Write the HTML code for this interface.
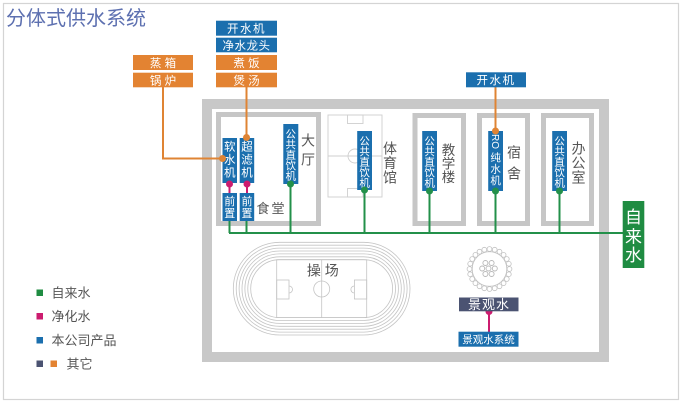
<!DOCTYPE html>
<html><head><meta charset="utf-8"><style>
html,body{margin:0;padding:0;background:#fff;}
svg{display:block;font-family:"Liberation Sans","Noto Sans CJK SC",sans-serif;}
</style></head><body>
<svg width="682" height="404" viewBox="0 0 682 404" xmlns="http://www.w3.org/2000/svg">
<rect x="3.5" y="3.5" width="675" height="396" fill="#fff" stroke="#d4d4d4" stroke-width="1.2"/>
<text x="6" y="25" font-size="20" fill="#5d70b0">分体式供水系统</text>

<!-- campus frame -->
<rect x="207" y="104" width="397" height="253" fill="none" stroke="#c8c8c8" stroke-width="10"/>
<!-- buildings -->
<rect x="218.5" y="114.5" width="100" height="109" fill="none" stroke="#c6c6c6" stroke-width="5"/>
<rect x="415" y="115.5" width="48.5" height="108" fill="none" stroke="#c6c6c6" stroke-width="5"/>
<rect x="479.5" y="115.5" width="48" height="108" fill="none" stroke="#c6c6c6" stroke-width="5"/>
<rect x="543.5" y="115.5" width="48" height="108" fill="none" stroke="#c6c6c6" stroke-width="5"/>

<!-- gym field -->
<g fill="none" stroke="#cfcfcf" stroke-width="0.9">
<rect x="328" y="115" width="54" height="82"/>
<line x1="328" y1="156" x2="382" y2="156"/>
<circle cx="355" cy="156" r="7"/>
<rect x="347.5" y="115" width="15.5" height="8.5"/>
<rect x="347.5" y="188.5" width="15.5" height="8.5"/>
</g>

<!-- track -->
<g fill="none" stroke="#c4c4c4" stroke-width="0.8">
<rect x="233.3" y="242.3" width="176.7" height="92.7" rx="46.35"/>
<rect x="236.2" y="245.2" width="170.9" height="86.9" rx="43.45"/>
<rect x="239.1" y="248.1" width="165.1" height="81.1" rx="40.55"/>
<rect x="242" y="251" width="159.3" height="75.3" rx="37.65"/>
<rect x="244.9" y="253.9" width="153.5" height="69.5" rx="34.75"/>
<rect x="247.8" y="256.8" width="147.7" height="63.7" rx="31.85"/>
<rect x="250.7" y="259.7" width="141.9" height="57.9" rx="28.95"/>
<rect x="276.7" y="259.7" width="90" height="57.9"/>
<line x1="321.7" y1="259.7" x2="321.7" y2="317.6"/>
<circle cx="321.7" cy="289" r="8"/>
<rect x="276.7" y="280" width="12.3" height="19"/>
<rect x="354.4" y="280" width="12.3" height="19"/>
<path d="M289 286 a3 3 0 0 1 0 7"/>
<path d="M354.4 286 a3 3 0 0 0 0 7"/>
</g>
<text x="322.8" y="275.3" font-size="14" fill="#555" text-anchor="middle">操 场</text>

<!-- fountain -->
<g fill="#fff" stroke="#c0c0c0" stroke-width="0.8">
<circle cx="489.5" cy="269" r="17.3"/>
<circle cx="509.5" cy="269" r="2.4"/><circle cx="508.8" cy="274.2" r="2.4"/><circle cx="506.8" cy="279" r="2.4"/><circle cx="503.6" cy="283.1" r="2.4"/><circle cx="499.5" cy="286.3" r="2.4"/><circle cx="494.7" cy="288.3" r="2.4"/><circle cx="489.5" cy="289" r="2.4"/><circle cx="484.3" cy="288.3" r="2.4"/><circle cx="479.5" cy="286.3" r="2.4"/><circle cx="475.4" cy="283.1" r="2.4"/><circle cx="472.2" cy="279" r="2.4"/><circle cx="470.2" cy="274.2" r="2.4"/><circle cx="469.5" cy="269" r="2.4"/><circle cx="470.2" cy="263.8" r="2.4"/><circle cx="472.2" cy="259" r="2.4"/><circle cx="475.4" cy="254.9" r="2.4"/><circle cx="479.5" cy="251.7" r="2.4"/><circle cx="484.3" cy="249.7" r="2.4"/><circle cx="489.5" cy="249" r="2.4"/><circle cx="494.7" cy="249.7" r="2.4"/><circle cx="499.5" cy="251.7" r="2.4"/><circle cx="503.6" cy="254.9" r="2.4"/><circle cx="506.8" cy="259" r="2.4"/><circle cx="508.8" cy="263.8" r="2.4"/>
</g>
<g fill="#fff" stroke="#b8b8b8" stroke-width="0.9">
<circle cx="488.5" cy="268.5" r="2.5"/><circle cx="494.8" cy="268.5" r="2.5"/><circle cx="482.2" cy="268.5" r="2.5"/><circle cx="485.4" cy="263" r="2.5"/><circle cx="491.6" cy="263" r="2.5"/><circle cx="485.4" cy="274" r="2.5"/><circle cx="491.6" cy="274" r="2.5"/>
</g>

<!-- orange lines -->
<g stroke="#df8434" stroke-width="2" fill="none">
<polyline points="163,87 163,158.5 222.5,158.5"/>
<line x1="246.5" y1="87" x2="246.5" y2="137.5"/>
<line x1="495.5" y1="87" x2="495.5" y2="131"/>
</g>

<!-- green lines -->
<g stroke="#23904a" stroke-width="2" fill="none">
<line x1="229" y1="233" x2="623" y2="233"/>
<line x1="229.5" y1="220" x2="229.5" y2="233"/>
<line x1="246.5" y1="220" x2="246.5" y2="233"/>
<line x1="290.5" y1="184" x2="290.5" y2="233"/>
<line x1="364.5" y1="190" x2="364.5" y2="233"/>
<line x1="429.5" y1="191" x2="429.5" y2="233"/>
<line x1="495.5" y1="191" x2="495.5" y2="233"/>
<line x1="559.5" y1="191" x2="559.5" y2="233"/>
</g>
<g stroke="#cc1c6f" stroke-width="2">
<line x1="229.5" y1="183" x2="229.5" y2="194"/>
<line x1="247" y1="183" x2="247" y2="194"/>
<line x1="489" y1="311" x2="489" y2="332"/>
</g>

<!-- top boxes -->
<g fill="#1b6fae">
<rect x="216" y="20.7" width="61" height="15"/>
<rect x="216" y="37.7" width="61" height="14.6"/>
<rect x="466" y="72.3" width="60" height="15"/>
</g>
<g fill="#e38332">
<rect x="216" y="55" width="61" height="15"/>
<rect x="216" y="72.7" width="61" height="14.6"/>
<rect x="133" y="55" width="60" height="15"/>
<rect x="133" y="72.7" width="60" height="14.6"/>
</g>
<g fill="#fff" font-size="11.5" text-anchor="middle">
<text x="246.5" y="32.5" letter-spacing="1.5">开水机</text>
<text x="246.5" y="49.3" letter-spacing="0.5">净水龙头</text>
<text x="246.5" y="66.8">煮  饭</text>
<text x="246.5" y="84.3">煲  汤</text>
<text x="163" y="66.8">蒸  箱</text>
<text x="163" y="84.3">锅  炉</text>
<text x="496" y="84.1" letter-spacing="1.5">开水机</text>
</g>

<!-- vertical blue boxes -->
<g fill="#1b6fae">
<rect x="222.5" y="138" width="14.5" height="45"/>
<rect x="239.7" y="138" width="14.5" height="45"/>
<rect x="222.5" y="193" width="14.5" height="28"/>
<rect x="239.7" y="193" width="14.5" height="28"/>
<rect x="283.3" y="124" width="15" height="60"/>
<rect x="357.2" y="131" width="14.8" height="59"/>
<rect x="422.2" y="131" width="14.8" height="60"/>
<rect x="488.2" y="131" width="14.8" height="60"/>
<rect x="552.2" y="131" width="14.8" height="60"/>
</g>
<g fill="#fff" text-anchor="middle">
<text font-size="11.5"><tspan x="229.7" y="150.4">软</tspan><tspan x="229.7" y="163.4">水</tspan><tspan x="229.7" y="176.4">机</tspan></text>
<text font-size="11.5"><tspan x="247" y="150.4">超</tspan><tspan x="247" y="163.4">滤</tspan><tspan x="247" y="176.4">机</tspan></text>
<text font-size="11"><tspan x="229.7" y="205">前</tspan><tspan x="229.7" y="217">置</tspan></text>
<text font-size="11"><tspan x="247" y="205">前</tspan><tspan x="247" y="217">置</tspan></text>
<text font-size="10.5"><tspan x="290.8" y="137.5">公</tspan><tspan x="290.8" y="148">共</tspan><tspan x="290.8" y="158.5">直</tspan><tspan x="290.8" y="169">饮</tspan><tspan x="290.8" y="179.5">机</tspan></text>
<text font-size="10.5"><tspan x="364.6" y="144.5">公</tspan><tspan x="364.6" y="155">共</tspan><tspan x="364.6" y="165.5">直</tspan><tspan x="364.6" y="176">饮</tspan><tspan x="364.6" y="186.5">机</tspan></text>
<text font-size="10.5"><tspan x="429.6" y="144.5">公</tspan><tspan x="429.6" y="155">共</tspan><tspan x="429.6" y="165.5">直</tspan><tspan x="429.6" y="176">饮</tspan><tspan x="429.6" y="186.5">机</tspan></text>
<text font-size="10.5"><tspan x="559.6" y="144.5">公</tspan><tspan x="559.6" y="155">共</tspan><tspan x="559.6" y="165.5">直</tspan><tspan x="559.6" y="176">饮</tspan><tspan x="559.6" y="186.5">机</tspan></text>
<text font-size="10" transform="translate(495.6 141.5) rotate(90)" x="0" y="3.5">RO</text>
<text font-size="10.5"><tspan x="495.6" y="161">纯</tspan><tspan x="495.6" y="172.5">水</tspan><tspan x="495.6" y="184">机</tspan></text>
</g>

<!-- dots -->
<g fill="#df8434"><circle cx="222.5" cy="158.5" r="3.5"/><circle cx="246.5" cy="137.5" r="3.5"/><circle cx="495.5" cy="131" r="3.5"/></g>
<g fill="#cc1c6f"><circle cx="229.5" cy="184" r="3.5"/><circle cx="247" cy="184" r="3.5"/><circle cx="489" cy="311.5" r="3.5"/></g>
<g fill="#23904a"><circle cx="290.5" cy="184" r="3.5"/><circle cx="364.5" cy="190" r="3.5"/><circle cx="429.5" cy="191" r="3.5"/><circle cx="495.5" cy="191" r="3.5"/><circle cx="559.5" cy="191" r="3.5"/></g>

<!-- building labels -->
<g fill="#555" text-anchor="middle">
<text font-size="14"><tspan x="308" y="145.3">大</tspan><tspan x="308" y="164.6">厅</tspan></text>
<text x="271.5" y="213" font-size="13" letter-spacing="2">食堂</text>
<text font-size="14"><tspan x="390" y="153.3">体</tspan><tspan x="390" y="167.8">育</tspan><tspan x="390" y="182.3">馆</tspan></text>
<text font-size="13.5"><tspan x="448.5" y="155">教</tspan><tspan x="448.5" y="168.5">学</tspan><tspan x="448.5" y="182">楼</tspan></text>
<text font-size="14"><tspan x="514" y="157.6">宿</tspan><tspan x="514" y="178.6">舍</tspan></text>
<text font-size="14"><tspan x="578.5" y="153.5">办</tspan><tspan x="578.5" y="168">公</tspan><tspan x="578.5" y="182.5">室</tspan></text>
</g>

<!-- tap water box -->
<rect x="622.7" y="201" width="21.6" height="67" fill="#1f8c42"/>
<text fill="#fff" font-size="17" text-anchor="middle"><tspan x="633.5" y="223">自</tspan><tspan x="633.5" y="242.5">来</tspan><tspan x="633.5" y="261">水</tspan></text>

<!-- landscape boxes -->
<rect x="459" y="297.5" width="59.5" height="13.8" fill="#4b5372"/>
<text x="489" y="309.2" fill="#fff" font-size="13" text-anchor="middle" letter-spacing="1">景观水</text>
<rect x="458.5" y="331.7" width="60" height="15" fill="#1b6fae"/>
<text x="488.5" y="343.2" fill="#fff" font-size="10.5" text-anchor="middle">景观水系统</text>

<!-- legend -->
<rect x="36.5" y="289.5" width="6.5" height="6.5" fill="#1f8c42"/>
<rect x="36.5" y="313" width="6.5" height="6.5" fill="#cc1c6f"/>
<rect x="36.5" y="337" width="6.5" height="6.5" fill="#1b6fae"/>
<rect x="36.5" y="360.5" width="6.5" height="6.5" fill="#4b5372"/>
<rect x="50.5" y="360.5" width="6.5" height="6.5" fill="#e38332"/>
<g fill="#555" font-size="13">
<text x="51.5" y="297.6">自来水</text>
<text x="51.5" y="321.2">净化水</text>
<text x="51.5" y="345.2">本公司产品</text>
<text x="66.5" y="368.6">其它</text>
</g>
</svg>
</body></html>
